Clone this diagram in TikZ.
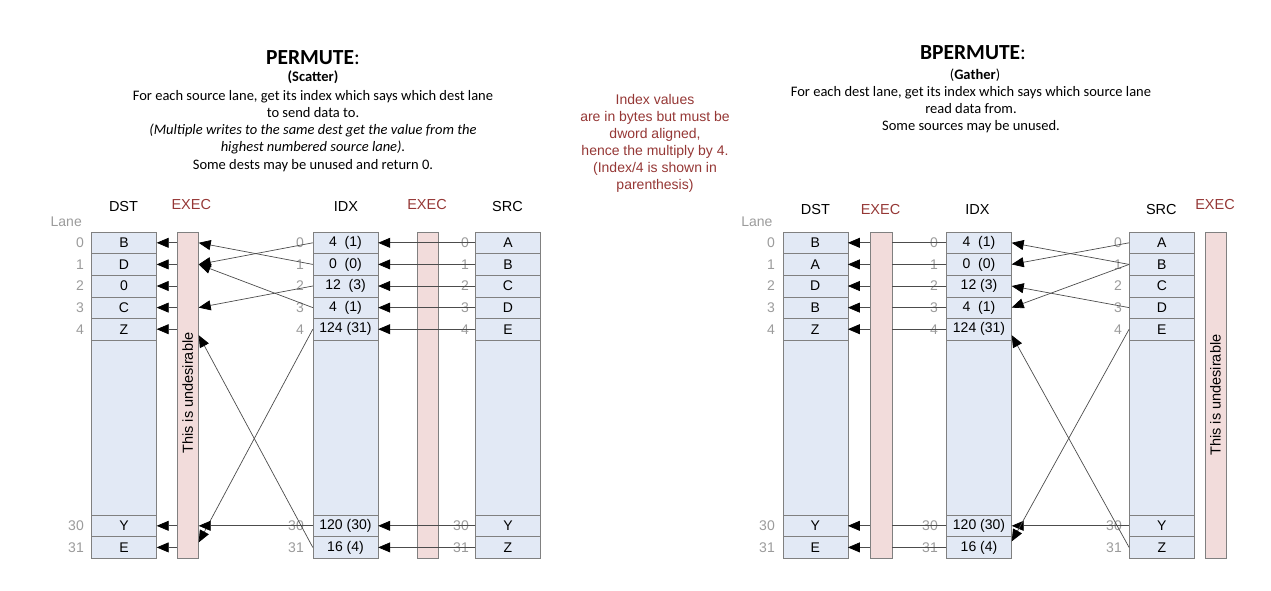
\documentclass[tikz,border=0pt]{standalone}
\usepackage{fontspec}
\setmainfont{Liberation Sans}
\newfontfamily\calibri{Carlito}
\usetikzlibrary{arrows.meta,calc}
\definecolor{cellblue}{RGB}{226,233,245}
\definecolor{execpink}{RGB}{242,220,219}
\definecolor{execred}{RGB}{149,55,53}
\definecolor{lanegray}{RGB}{155,155,155}
\definecolor{rulegray}{RGB}{128,128,128}
\tikzset{
  cell/.style={draw=rulegray, fill=cellblue, minimum width=65pt, minimum height=21.6pt, inner sep=0pt, font=\fontsize{14}{16}\selectfont},
  gapcell/.style={cell, minimum height=175pt},
  execbar/.style={draw=rulegray, fill=execpink, minimum width=21.5pt, minimum height=326.2pt, inner sep=0pt},
  lane/.style={anchor=east, text=lanegray, inner sep=0pt, font=\fontsize{14}{16}\selectfont},
  head/.style={inner sep=0pt, font=\fontsize{14.5}{16}\selectfont},
  exechead/.style={head, text=execred},
  note/.style={rotate=90, inner sep=0pt, font=\fontsize{14.5}{16}\selectfont},
  wire/.style={draw=black!70, line width=0.7pt},
  feed/.style={wire, -{Triangle[length=12pt, width=10pt, color=black]}},
  headline/.style={anchor=base, inner sep=0pt, font=\calibri\fontsize{21.5}{24}\selectfont},
  body/.style={anchor=base, inner sep=0pt, font=\calibri\fontsize{14.5}{17}\selectfont},
  remark/.style={anchor=base, inner sep=0pt, text=execred, font=\fontsize{14}{17}\selectfont}
}
\begin{document}
\begin{tikzpicture}[x=1pt,y=-1pt]
\useasboundingbox (0,0) rectangle (1271,590);
% texts
\node[headline] (ptitle) at (313,64.5) {\textbf{PERMUTE}:};
\node[body] (pkind) at (313,81.5) {\textbf{(Scatter)}};
\foreach \t [count=\k] in {{For each source lane, get its index which says which dest lane}, {to send data to.}, {\itshape (Multiple writes to the same dest get the value from the}, {\itshape highest numbered source lane).}, {Some dests may be unused and return 0.}}
  \node[body] (pline\k) at (313,82.7+17.3*\k) {\t};
\node[headline] (btitle) at (973,59.5) {\textbf{BPERMUTE}:};
\node[body] (bkind) at (975,79) {(\textbf{Gather})};
\foreach \t [count=\k] in {{For each dest lane, get its index which says which source lane}, {read data from.}, {Some sources may be unused.}}
  \node[body] (bline\k) at (971,79.5+17*\k) {\t};
\foreach \t [count=\k] in {{Index values}, {are in bytes but must be}, {dword aligned,}, {hence the multiply by 4.}, {(Index/4 is shown in}, {parenthesis)}}
  \node[remark] (rline\k) at (655,87.5+17*\k) {\t};
% PERMUTE
\node[head] (pdsth) at (123.5,206.7) {DST};
\node[exechead] (pexah) at (191.3,205) {EXEC};
\node[head] (pidxh) at (346,206.7) {IDX};
\node[exechead] (pexbh) at (427,205) {EXEC};
\node[head] (psrch) at (507.5,206.7) {SRC};
\node[lane] (plane) at (82,222) {Lane};
\node[execbar] (pexa) at (187.75,395.1) {};
\node[execbar] (pexb) at (427.5,395.1) {};
\node[note] (pnote) at (187.75,393) {This is undesirable};
\node[gapcell] (pdstgap) at (124,427.5) {};
\node[gapcell] (pidxgap) at (345.5,427.5) {};
\node[gapcell] (psrcgap) at (508,427.5) {};
\foreach \r/\y/\d/\i/\s in {0/242.8/B/4~~(1)/A, 1/264.4/D/0~~(0)/B, 2/286/0/12~~(3)/C, 3/307.6/C/4~~(1)/D, 4/329.2/Z/124 (31)/E, 30/525.8/Y/120 (30)/Y, 31/547.4/E/16 (4)/Z} {
  \node[cell] (pdst\r) at (124,\y) {\d};
  \node[cell] (pidx\r) at (345.5,\y) {\i};
  \node[cell] (psrc\r) at (508,\y) {\s};
  \node[lane] (pdl\r) at (84,\y) {\r};
  \node[lane] (pil\r) at (304,\y) {\r};
  \node[lane] (psl\r) at (469,\y) {\r};
}
\foreach \r in {0,1,2,3,4,30,31} {
  \draw[feed] (pexa.west |- pdst\r) -- (pdst\r.east);
  \draw[feed] (psrc\r.west) -- (pidx\r.east);
}
\foreach \a/\b/\o in {0/1/0, 1/0/0, 2/3/0, 3/1/0, 4/31/-5, 30/30/0, 31/4/6}
  \draw[feed] (pidx\a.west) -- ($(pexa.east |- pdst\b)+(0,\o)$);
% BPERMUTE
\node[head] (bdsth) at (815.4,209.5) {DST};
\node[exechead] (bexah) at (880.5,209.5) {EXEC};
\node[head] (bidxh) at (977.5,209.5) {IDX};
\node[head] (bsrch) at (1161.3,210) {SRC};
\node[exechead] (bexbh) at (1215,205) {EXEC};
\node[lane] (blane) at (772.7,222) {Lane};
\node[execbar] (bexa) at (881,395.1) {};
\node[execbar] (bexb) at (1215.5,395.1) {};
\node[note] (bnote) at (1215.5,395) {This is undesirable};
\node[gapcell] (bdstgap) at (815.2,427.5) {};
\node[gapcell] (bidxgap) at (979,427.5) {};
\node[gapcell] (bsrcgap) at (1161.8,427.5) {};
\foreach \r/\y/\d/\i/\s in {0/242.8/B/4~~(1)/A, 1/264.4/A/0~~(0)/B, 2/286/D/12 (3)/C, 3/307.6/B/4~~(1)/D, 4/329.2/Z/124 (31)/E, 30/525.8/Y/120 (30)/Y, 31/547.4/E/16 (4)/Z} {
  \node[cell] (bdst\r) at (815.2,\y) {\d};
  \node[cell] (bidx\r) at (979,\y) {\i};
  \node[cell] (bsrc\r) at (1161.8,\y) {\s};
  \node[lane] (bdl\r) at (775,\y) {\r};
  \node[lane] (bil\r) at (938,\y) {\r};
  \node[lane] (bsl\r) at (1122,\y) {\r};
}
\foreach \r in {0,1,2,3,4,30,31} {
  \draw[feed] (bexa.west |- bdst\r) -- (bdst\r.east);
  \draw[wire] (bidx\r.west) -- (bexa.east |- bidx\r);
}
\foreach \a/\b/\o in {0/1/0, 1/0/0, 2/3/0, 3/1/0, 4/31/6, 30/30/0, 31/4/-6}
  \draw[feed] (bsrc\b.west) -- ($(bidx\a.east)+(0,\o)$);
\end{tikzpicture}
\end{document}
